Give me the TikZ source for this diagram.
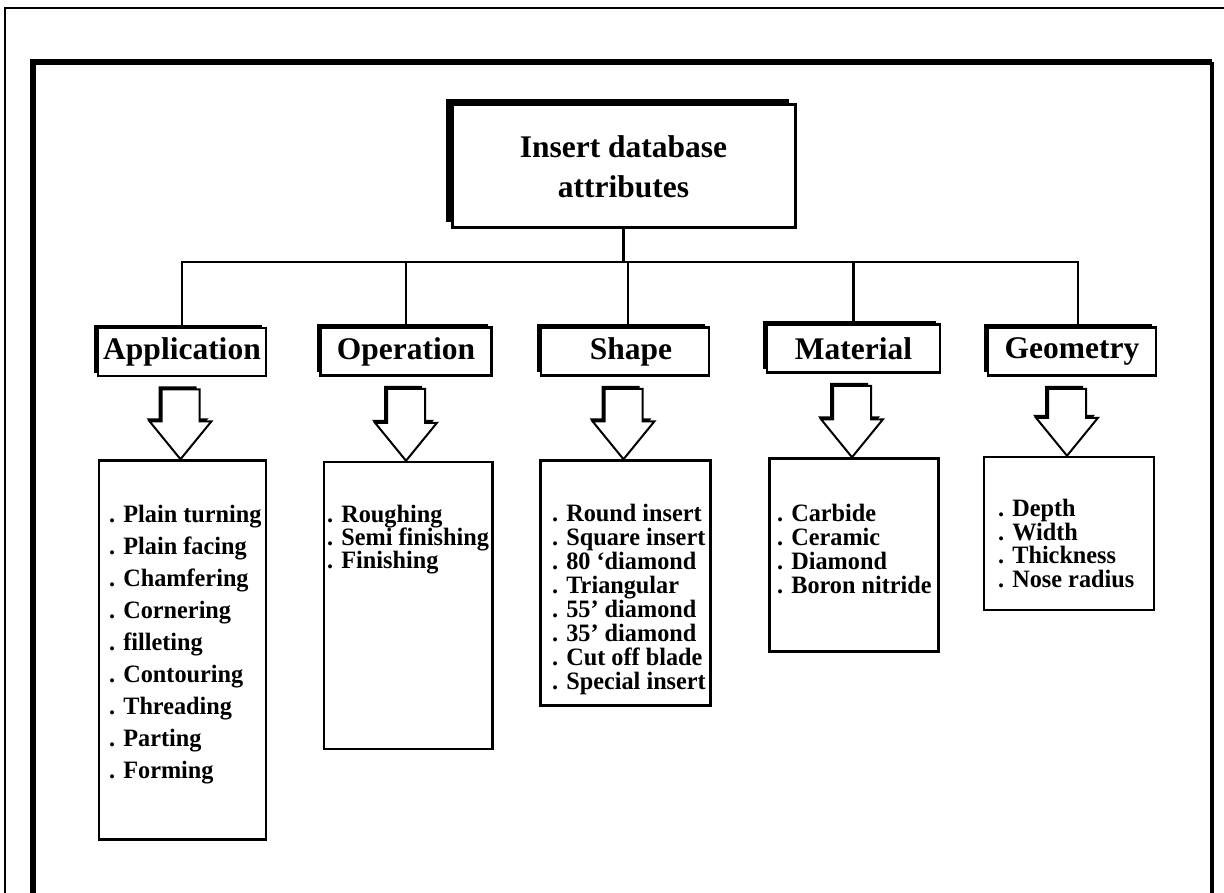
\documentclass[tikz,border=0pt]{standalone}
\usepackage{fontspec}
\setmainfont{Liberation Serif}
\newfontfamily\itemfamily{Liberation Serif}[FakeStretch=0.97]
\usetikzlibrary{calc,shadows}

\newcommand\headfont{\fontsize{31.5}{40}\selectfont\bfseries}
\newcommand\itemfont[1]{\itemfamily\fontsize{25}{#1}\selectfont\bfseries}

% hollow block arrow from a category box down to its list box
\newcommand\blockarrow[2]{%
  \coordinate (tipA) at ($(#2.north)+(-2,0)$);
  \coordinate (topA) at (tipA |- #1.south);
  \filldraw[arrowshape] ($(topA)+(-19,12)$) -- ($(topA)+(19,12)$)
    -- ($(tipA)+(19,-38)$) -- ($(tipA)+(31,-38)$) -- (tipA)
    -- ($(tipA)+(-31,-38)$) -- ($(tipA)+(-19,-38)$) -- cycle;}

\begin{document}
\begin{tikzpicture}[x=1pt,y=-1pt,
  frameouter/.style={line width=1.8pt},
  conn/.style={line width=2.2pt},
  topbox/.style={draw, fill=white, line width=3pt, inner sep=0pt, align=center,
    font=\headfont, general shadow={fill=black, shadow xshift=-6pt, shadow yshift=6pt}},
  catbox/.style={draw, fill=white, line width=2.5pt, inner sep=0pt, font=\headfont,
    minimum height=48pt, general shadow={fill=black, shadow xshift=-4pt, shadow yshift=3pt}},
  listbox/.style={draw, line width=2.5pt, inner sep=0pt},
  listtext/.style={anchor=north west, inner sep=0pt, align=left, font=\itemfont{24}},
  arrowshape/.style={draw, fill=white, line width=2pt, line join=miter,
    general shadow={fill=black, shadow xshift=-3pt, shadow yshift=3pt}}]

\fill[white] (0,0) rectangle (1224,893);
\useasboundingbox (0,0) rectangle (1224,893);

% page frames
\draw[frameouter] (5,893) -- (5,8) -- (1224,8);
\draw[line width=5.5pt] (33,893) -- (33,62) -- (1212,62);
\draw[line width=3.5pt] (1212,62) -- (1212,893);

% root
\node[topbox, minimum width=343pt, minimum height=123pt] (top) at (623.5,166.5)
  {Insert database\\attributes};

% categories
\node[catbox, minimum width=168pt] (app)   at (182,352)   {Application};
\node[catbox, minimum width=171pt] (op)    at (406,351.5) {Operation};
\node[catbox, minimum width=168pt] (shape) at (625,351.5) {\hspace*{12pt}Shape};
\node[catbox, minimum width=173pt] (mat)   at (853.5,348.5) {Material};
\node[catbox, minimum width=168pt] (geo)   at (1072,351.5) {Geometry};

% tree connectors
\coordinate (bus) at (0,262);
\draw[conn] (top.south) -- (top.south |- bus);
\draw[conn] (app.north) |- ([xshift=6pt]geo.north |- bus) -- ([xshift=6pt]geo.north);
\draw[conn] (op.north) -- (op.north |- bus);
\draw[conn] ([xshift=3pt]shape.north) -- ([xshift=3pt]shape.north |- bus);
\draw[conn] (mat.north) -- (mat.north |- bus);

% list boxes
\node[listbox, minimum width=167pt, minimum height=379pt] (applist)   at (182.5,650) {};
\node[listbox, minimum width=168.5pt, minimum height=287pt] (oplist)  at (408,605.5) {};
\node[listbox, minimum width=170pt, minimum height=245pt] (shapelist) at (625.5,583) {};
\node[listbox, minimum width=169pt, minimum height=193pt] (matlist)   at (854,555) {};
\node[listbox, minimum width=170pt, minimum height=153pt] (geolist)   at (1069,533.5) {};

% arrows
\blockarrow{app}{applist}
\blockarrow{op}{oplist}
\blockarrow{shape}{shapelist}
\blockarrow{mat}{matlist}
\blockarrow{geo}{geolist}

% list contents
\node[listtext, font=\itemfont{32}] (apptext) at (109,505)
  {. Plain turning\\. Plain facing\\. Chamfering\\. Cornering\\. filleting\\. Contouring\\. Threading\\. Parting\\. Forming};
\node[listtext, font=\itemfont{23.2}] (optext) at (327,505)
  {. Roughing\\. Semi finishing\\. Finishing};
\node[listtext] (shapetext) at (552,504)
  {. Round insert\\. Square insert\\. 80 ‘diamond\\. Triangular\\. 55’ diamond\\. 35’ diamond\\. Cut off blade\\. Special insert};
\node[listtext] (mattext) at (777,504)
  {. Carbide\\. Ceramic\\. Diamond\\. Boron nitride};
\node[listtext, font=\itemfont{23.7}] (geotext) at (998,499)
  {. Depth\\. Width\\. Thickness\\. Nose radius};

\end{tikzpicture}
\end{document}
